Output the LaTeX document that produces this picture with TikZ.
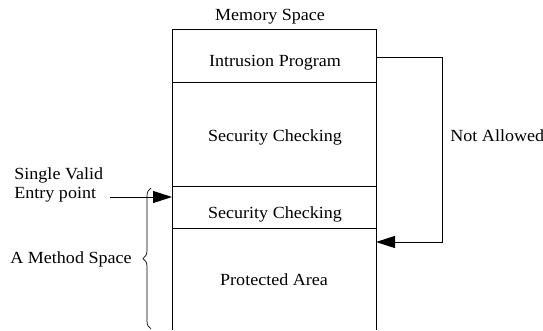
\documentclass[tikz,border=0pt]{standalone}
\usepackage{fontspec}
\setmainfont[FakeStretch=1.06]{Liberation Serif}
\usetikzlibrary{arrows.meta,decorations.pathreplacing}

\begin{document}
\begin{tikzpicture}[x=1pt,y=-1pt,line width=0.9pt,
  txt/.style={font=\fontsize{17}{18.5}\selectfont,inner sep=0pt},
  bigtip/.style={-{Triangle[length=19pt,width=12pt]}}]
\useasboundingbox (0,0) rectangle (543,330);
% memory column
\draw (172,330) -- (172,29) -- (376,29) -- (376,330);
\foreach \y in {82,186,228}
  \draw (172,\y) -- (376,\y);
\node[txt,anchor=base] (mem) at (270,20) {Memory Space};
\node[txt,anchor=base] (intr) at (275,66) {Intrusion Program};
\node[txt,anchor=base] (sec1) at (275,141.5) {Security Checking};
\node[txt,anchor=base] (sec2) at (275,218.5) {Security Checking};
\node[txt,anchor=base] (prot) at (274,285) {Protected Area};

% not allowed jump
\coordinate (out) at (376,57);
\coordinate (in) at (376,242);
\draw[bigtip] (out) -- ++(66,0) |- (in);
\node[txt,anchor=base west] (deny) at (450,141) {Not Allowed};

% entry point
\node[txt,anchor=base west,align=left] (entry) at (14,198) {Single Valid\\Entry point};
\coordinate (from) at (110,197);
\coordinate (gate) at (172,197);
\draw[bigtip] (from) -- (gate);

% method space
\draw[line width=0.7pt,decorate,decoration={brace,amplitude=8pt}]
  (151,329) -- (151,188) coordinate[midway] (mid);
\node[txt,anchor=base east] (method) at (132,263) {A Method Space};
\end{tikzpicture}
\end{document}
